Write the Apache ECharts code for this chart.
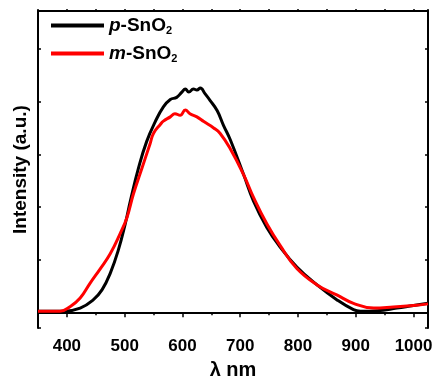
<!DOCTYPE html>
<html>
<head>
<meta charset="utf-8">
<script src="https://cdn.jsdelivr.net/npm/echarts@6/dist/echarts.min.js"></script>
<style>
  html, body { margin: 0; padding: 0; background: #fff; }
  #cht-pl { width: 436px; height: 385px; }
</style>
</head>
<body>
<div id="cht-pl"></div>
<script>
// wavelength (nm) / intensity (a.u.)
const pWavelength = [350, 395, 423, 446, 461, 475, 489, 501, 510, 524, 538, 553, 567, 579, 590, 599, 605, 611, 619, 625, 631, 639, 648, 660, 671, 683, 706, 723, 746, 769, 798, 833, 867, 896, 908, 937, 971, 1000, 1025];
const pIntensity = [0.02, 0.02, 0.08, 0.24, 0.43, 0.74, 1.18, 1.68, 2.12, 2.74, 3.24, 3.62, 3.90, 4.04, 4.08, 4.18, 4.24, 4.18, 4.24, 4.22, 4.26, 4.15, 4.02, 3.83, 3.55, 3.27, 2.61, 2.11, 1.61, 1.24, 0.86, 0.52, 0.24, 0.05, 0.02, 0.03, 0.08, 0.13, 0.17];

const mWavelength = [350, 388, 406, 423, 440, 458, 475, 492, 504, 515, 530, 544, 550, 562, 567, 579, 587, 596, 605, 613, 625, 637, 654, 665, 683, 706, 723, 746, 769, 798, 833, 867, 896, 931, 965, 1000, 1025];
const mIntensity = [0.02, 0.02, 0.11, 0.27, 0.55, 0.83, 1.11, 1.49, 1.80, 2.24, 2.74, 3.20, 3.40, 3.57, 3.63, 3.71, 3.77, 3.74, 3.84, 3.77, 3.71, 3.62, 3.50, 3.40, 3.10, 2.61, 2.18, 1.68, 1.27, 0.83, 0.52, 0.33, 0.17, 0.08, 0.10, 0.13, 0.16];

const seriesNames = ['p-SnO2', 'm-SnO2'];
const xTitle = 'λ nm';
const yTitle = 'Intensity (a.u.)';

const chart = echarts.init(document.getElementById('cht-pl'));

const font = '"Liberation Sans", Arial, sans-serif';
const lineStyleAxis = { color: '#000', width: 2 };

const option = {
    animation: false,
    grid: { left: 38, right: 8, top: 11, bottom: 53, containLabel: false },
    legend: {
        orient: 'vertical',
        left: 46,
        top: 11,
        itemGap: 8,
        itemWidth: 53,
        itemHeight: 4,
        icon: 'rect',
        data: seriesNames,
        formatter: (name) => {
            const lead = name.charAt(0);
            return '{i|' + lead + '}{t|-SnO}{s|2}';
        },
        textStyle: {
            rich: {
                i: { fontFamily: font, fontWeight: 'bold', fontStyle: 'italic', fontSize: 19, color: '#000' },
                t: { fontFamily: font, fontWeight: 'bold', fontSize: 19, color: '#000' },
                s: { fontFamily: font, fontWeight: 'bold', fontSize: 11, color: '#000', padding: [10, 0, 0, 0] }
            }
        }
    },
    xAxis: [
        {
            type: 'value',
            min: 350,
            max: 1025,
            name: xTitle,
            nameLocation: 'middle',
            nameGap: 31,
            nameTextStyle: { fontFamily: font, fontWeight: 'bold', fontSize: 20, color: '#000' },
            axisLine: { lineStyle: lineStyleAxis },
            axisTick: { inside: false, length: 5, lineStyle: { color: '#000', width: 1.5 } },
            axisLabel: {
                showMinLabel: false,
                showMaxLabel: false,
                margin: 10,
                formatter: (v) => String(v),
                fontFamily: font,
                fontWeight: 'bold',
                fontSize: 17,
                color: '#000'
            },
            splitLine: { show: false }
        },
        {
            // minor ticks, bottom
            type: 'value',
            position: 'bottom',
            min: 350,
            max: 1025,
            interval: 50,
            axisLine: { show: false },
            axisTick: { inside: false, length: 3, lineStyle: { color: '#000', width: 1.5 } },
            axisLabel: { show: false },
            splitLine: { show: false }
        },
        {
            // top frame
            type: 'value',
            position: 'top',
            min: 350,
            max: 1025,
            interval: 50,
            axisLine: { lineStyle: lineStyleAxis },
            axisTick: { inside: false, length: 2, lineStyle: { color: '#000', width: 1.5 } },
            axisLabel: { show: false },
            splitLine: { show: false }
        }
    ],
    yAxis: [
        {
            type: 'value',
            min: -0.3,
            max: 5.72,
            name: yTitle,
            nameLocation: 'middle',
            nameGap: 8,
            nameTextStyle: { fontFamily: font, fontWeight: 'bold', fontSize: 19, color: '#000' },
            axisLine: { show: true, lineStyle: lineStyleAxis },
            axisTick: { show: true, inside: true, length: 3, lineStyle: { color: '#000', width: 1.5 } },
            axisLabel: { show: false },
            splitLine: { show: false }
        },
        {
            type: 'value',
            position: 'right',
            min: -0.3,
            max: 5.72,
            axisLine: { show: true, lineStyle: lineStyleAxis },
            axisTick: { show: true, inside: true, length: 3, lineStyle: { color: '#000', width: 1.5 } },
            axisLabel: { show: false },
            splitLine: { show: false }
        }
    ],
    series: [
        {
            name: seriesNames[0],
            type: 'line',
            xAxisIndex: 0,
            yAxisIndex: 0,
            showSymbol: false,
            smooth: 0.45,
            color: '#000000',
            lineStyle: { width: 3, color: '#000000' },
            data: pWavelength.map((w, i) => [w, pIntensity[i]])
        },
        {
            name: seriesNames[1],
            type: 'line',
            xAxisIndex: 0,
            yAxisIndex: 0,
            showSymbol: false,
            smooth: 0.45,
            color: '#ff0000',
            lineStyle: { width: 3, color: '#ff0000' },
            data: mWavelength.map((w, i) => [w, mIntensity[i]])
        }
    ]
};

chart.setOption(option);
</script>
</body>
</html>
